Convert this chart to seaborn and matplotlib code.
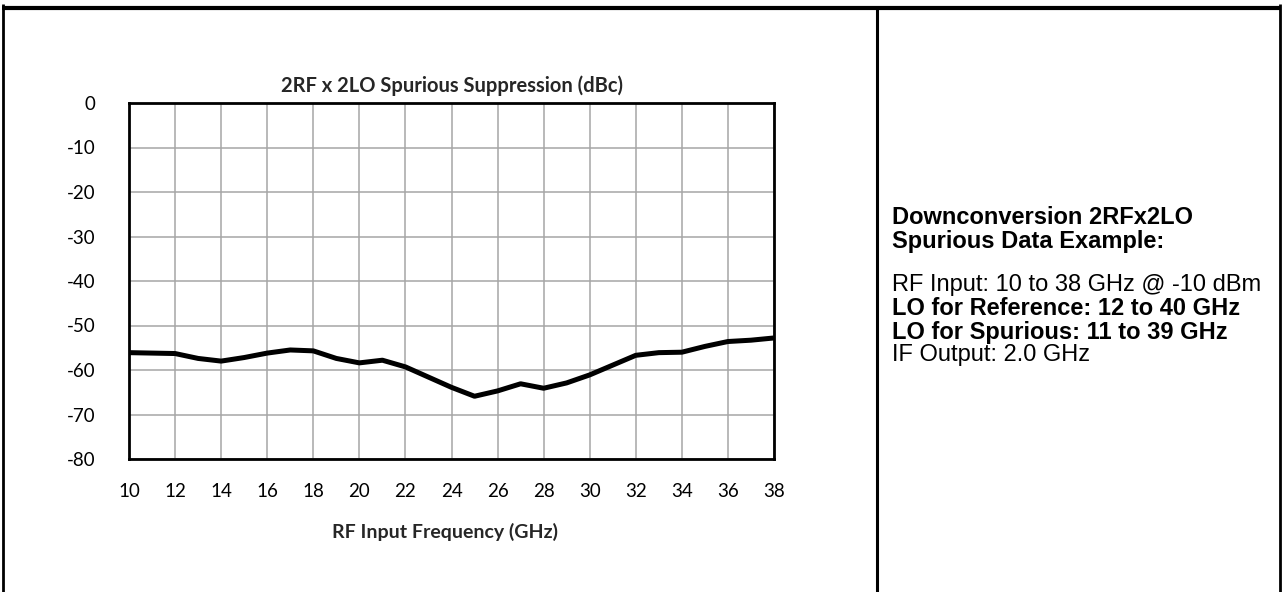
import numpy as np
import pandas as pd
import seaborn as sns
import matplotlib.pyplot as plt
from matplotlib.lines import Line2D

# RF input frequency (GHz) and 2RFx2LO spurious suppression (dBc)
freq_ghz = [10, 11, 12, 13, 14, 15, 16, 17, 18, 19, 20, 21, 22, 23, 24,
            25, 26, 27, 28, 29, 30, 31, 32, 33, 34, 35, 36, 37, 38]
spur_dbc = [-56.1, -56.2, -56.3, -57.4, -58.0, -57.2, -56.2, -55.5, -55.7, -57.4,
            -58.4, -57.8, -59.3, -61.6, -63.9, -65.9, -64.7, -63.1, -64.1, -62.9,
            -61.1, -58.9, -56.7, -56.1, -56.0, -54.7, -53.6, -53.3, -52.8]

x_ticks = list(range(10, 39, 2))
y_ticks = list(range(-80, 1, 10))

chart_title = "2RF x 2LO Spurious Suppression (dBc)"
x_label = "RF Input Frequency (GHz)"
note_head = ["Downconversion 2RFx2LO", "Spurious Data Example:"]
note_body = [("RF Input: 10 to 38 GHz @ -10 dBm", "normal"),
             ("LO for Reference: 12 to 40 GHz", "bold"),
             ("LO for Spurious: 11 to 39 GHz", "bold"),
             ("IF Output: 2.0 GHz", "normal")]

df = pd.DataFrame({"freq": freq_ghz, "spur": spur_dbc})

sns.set_style("white")
plt.rcParams['font.family'] = ['Lato', 'DejaVu Sans']
plt.rcParams['axes.unicode_minus'] = False

W, H = 1283, 592
fig = plt.figure(figsize=(W / 100, H / 100), dpi=100)
ax = fig.add_axes([129 / W, 1 - 459 / H, (774 - 129) / W, (459 - 103) / H])

sns.lineplot(data=df, x="freq", y="spur", ax=ax, color="black", linewidth=3.6,
             solid_joinstyle="round", solid_capstyle="butt")

ax.set_xlim(10, 38)
ax.set_ylim(-80, 0)
ax.set_xticks(x_ticks)
ax.set_yticks(y_ticks)
ax.grid(True, color="#a6a6a6", linewidth=1.1)
ax.set_axisbelow(True)
for s in ax.spines.values():
    s.set_visible(True)
    s.set_color("black")
    s.set_linewidth(2.0)
ax.tick_params(axis="both", length=0, labelsize=13.5, colors="black")
ax.tick_params(axis="y", pad=24)
ax.tick_params(axis="x", pad=17)
ax.set_xlabel("")
ax.set_ylabel("")

fig.text(452 / W, 1 - 86 / H, chart_title, ha="center", va="center",
         fontsize=14.5, fontweight="bold")
fig.text(445 / W, 1 - 532 / H, x_label, ha="center", va="center",
         fontsize=14, fontweight="bold")

# outer frame and divider
frame_kw = dict(color="black", transform=fig.transFigure, solid_capstyle="butt")
fig.add_artist(Line2D([2 / W, 1281 / W], [1 - 8 / H, 1 - 8 / H], linewidth=3.0, **frame_kw))
fig.add_artist(Line2D([3 / W, 3 / W], [0, 1 - 4 / H], linewidth=2.0, **frame_kw))
fig.add_artist(Line2D([877 / W, 877 / W], [0, 1 - 8 / H], linewidth=2.2, **frame_kw))
fig.add_artist(Line2D([1280 / W, 1280 / W], [0, 1 - 4 / H], linewidth=2.0, **frame_kw))

tx = 892 / W
for i, line in enumerate(note_head):
    fig.text(tx, 1 - (218 + 23.5 * i) / H, line, ha="left", va="center", color="black",
             fontsize=17, fontweight="bold", family=["Liberation Sans", "DejaVu Sans"])
for i, (line, wt) in enumerate(note_body):
    fig.text(tx, 1 - (285 + 23.5 * i) / H, line, ha="left", va="center", color="black",
             fontsize=17, fontweight=wt, family=["Liberation Sans", "DejaVu Sans"])

fig.savefig("out.png", dpi=100)
